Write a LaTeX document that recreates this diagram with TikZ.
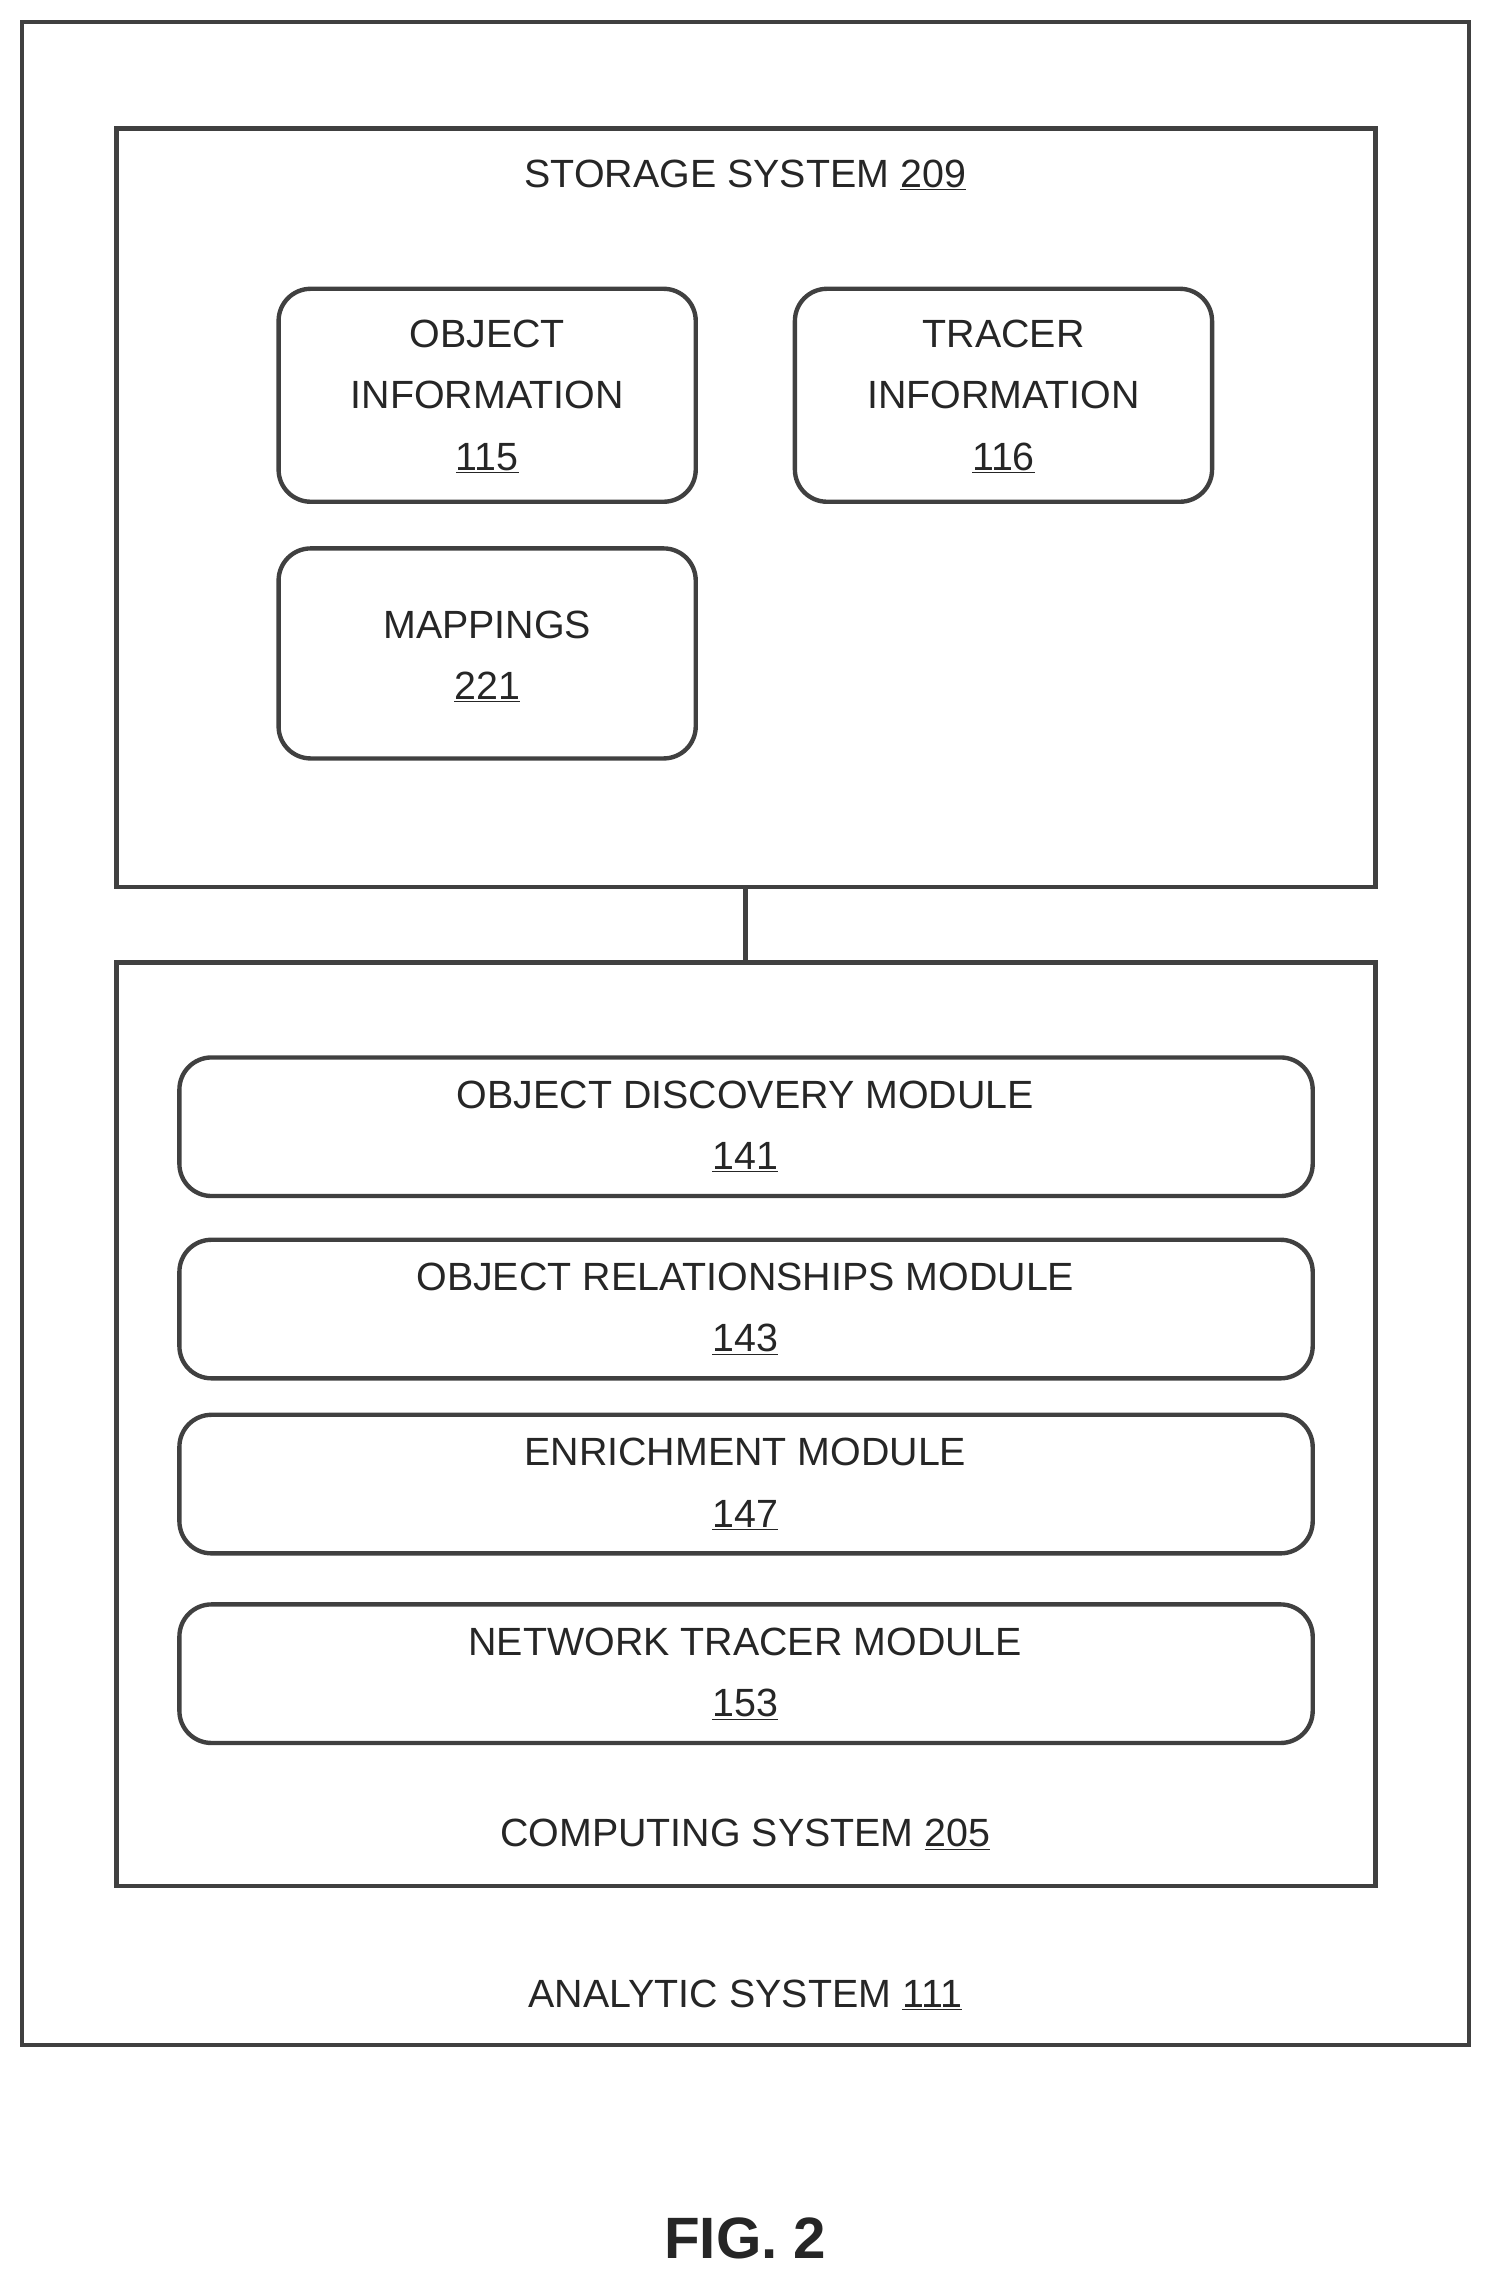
\documentclass[tikz,border=0pt]{standalone}
\usepackage{fontspec}
\setmainfont{Liberation Sans}
\begin{document}
\begin{tikzpicture}[x=1pt,y=-1pt,
  frame/.style={draw=black!75,line width=3pt},
  rbox/.style={draw=black!75,line width=3pt,rounded corners=22pt},
  lbl/.style={font=\fontsize{27}{42}\selectfont,text=black!85,align=center,inner sep=0pt}]
\useasboundingbox (0,0) rectangle (1024,1568);
\draw[frame] (15,15) rectangle (1007,1402);
\draw[frame] (80,88) rectangle (943,608);
\draw[frame] (80,660) rectangle (943,1293);
\coordinate (s) at (511,608); \coordinate (c) at (511,660);
\draw[frame] (s) -- (c);
\node[lbl] (st) at (511,120) {STORAGE SYSTEM \underline{209}};
\draw[rbox] (191,198) rectangle (477,344);
\node[lbl] (oi) at (334,272) {OBJECT\\INFORMATION\\\underline{115}};
\draw[rbox] (545,198) rectangle (831,344);
\node[lbl] (ti) at (688,272) {TRACER\\INFORMATION\\\underline{116}};
\draw[rbox] (191,376) rectangle (477,520);
\node[lbl] (mp) at (334,450) {MAPPINGS\\\underline{221}};
\foreach \ya/\yb/\t/\n [count=\i] in {725/820/OBJECT DISCOVERY MODULE/141,850/945/OBJECT RELATIONSHIPS MODULE/143,970/1065/ENRICHMENT MODULE/147,1100/1195/NETWORK TRACER MODULE/153}{
  \draw[rbox] (123,\ya) rectangle (900,\yb);
  \node[lbl] (m\i) at (511,{(\ya+\yb)/2}) {\t\\\underline{\n}};
}
\node[lbl] (cs) at (511,1258) {COMPUTING SYSTEM \underline{205}};
\node[lbl] (as) at (511,1368) {ANALYTIC SYSTEM \underline{111}};
\node[lbl,font=\fontsize{40}{48}\selectfont\bfseries] (fig) at (511,1535) {FIG. 2};
\end{tikzpicture}
\end{document}
